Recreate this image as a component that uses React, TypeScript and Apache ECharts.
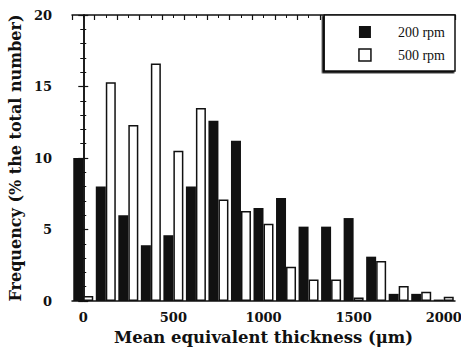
import React, { useEffect, useRef } from "react";
import * as echarts from "echarts";

const categories = ["0", "125", "250", "375", "500", "625", "750", "875", "1000", "1125", "1250", "1375", "1500", "1625", "1750", "1875", "2000"];
const rpm200 = [10, 8, 6, 3.9, 4.6, 8, 12.6, 11.2, 6.5, 7.2, 5.2, 5.2, 5.8, 3.1, 0.5, 0.5, 0.1];
const rpm500 = [0.35, 15.3, 12.3, 16.6, 10.5, 13.5, 7.1, 6.3, 5.4, 2.4, 1.5, 1.5, 0.25, 2.8, 1.05, 0.65, 0.3];
const xTickLabels = [0, 500, 1000, 1500, 2000];
const seriesNames = ["200 rpm", "500 rpm"];

const FONT = "DejaVu Serif";

export default function App() {
  const ref = useRef<HTMLDivElement>(null);
  useEffect(() => {
    if (!ref.current) return;
    const chart = echarts.init(ref.current, undefined, { renderer: "svg" });
    chart.setOption({
      animation: false,
      backgroundColor: "#fff",
      grid: { left: 72, right: 6, top: 15, bottom: 50, outerBoundsMode: "none" },
      legend: {
        orient: "vertical",
        right: 6,
        top: 15,
        padding: [10, 10, 9, 34],
        itemWidth: 12,
        itemHeight: 12,
        itemGap: 9,
        backgroundColor: "#fff",
        borderColor: "#111",
        borderWidth: 1.5,
        shadowColor: "#111",
        shadowBlur: 0,
        shadowOffsetX: -1.5,
        shadowOffsetY: 1.5,
        textStyle: { fontFamily: "Liberation Serif", fontSize: 14, color: "#111", padding: [0, 0, 0, 22] },
        data: [
          { name: seriesNames[0], icon: "rect", itemStyle: { color: "#111", borderWidth: 0 } },
          { name: seriesNames[1], icon: "rect", itemStyle: { color: "#fff", borderColor: "#111", borderWidth: 1.5 } },
        ],
      },
      xAxis: [
        { type: "category", data: categories, show: false },
        {
          type: "value",
          position: "bottom",
          min: -62.5,
          max: 2062.5,
          axisLine: { show: true, lineStyle: { color: "#111", width: 1.5 } },
          axisTick: { show: false },
          splitLine: { show: false },
          axisLabel: {
            customValues: xTickLabels,
            formatter: (v: number) => String(v),
            margin: 10,
            fontFamily: FONT,
            fontWeight: "bold",
            fontSize: 13,
            color: "#111",
          },
          name: "Mean equivalent thickness (\u03bcm)",
          nameLocation: "middle",
          nameGap: 26,
          nameTextStyle: { fontFamily: FONT, fontWeight: "bold", fontSize: 16.5, color: "#111" },
        },
        {
          type: "value",
          position: "top",
          min: -62.5,
          max: 2062.5,
          interval: 125,
          axisLine: { show: true, lineStyle: { color: "#111", width: 1.5 } },
          axisTick: { show: true, inside: true, length: 5, lineStyle: { color: "#111", width: 1.2 } },
          minorTick: { show: true, splitNumber: 2, length: 3, lineStyle: { color: "#111", width: 1 } },
          axisLabel: { show: false },
          splitLine: { show: false },
        },
      ],
      yAxis: [
        {
          type: "value",
          min: 0,
          max: 20,
          interval: 5,
          position: "left",
          axisLine: { show: true, lineStyle: { color: "#111", width: 1.5 } },
          axisTick: { show: true, inside: true, length: 5, lineStyle: { color: "#111", width: 1.2 } },
          minorTick: { show: true, splitNumber: 5, length: 3, lineStyle: { color: "#111", width: 1 } },
          splitLine: { show: false },
          axisLabel: { margin: 20, fontFamily: FONT, fontWeight: "bold", fontSize: 13, color: "#111" },
          name: "Frequency (% the total number)",
          nameLocation: "middle",
          nameRotate: 90,
          nameGap: 40,
          nameTextStyle: { fontFamily: FONT, fontWeight: "bold", fontSize: 16, color: "#111" },
        },
        {
          type: "value",
          min: 0,
          max: 20,
          interval: 5,
          position: "right",
          axisLine: { show: true, lineStyle: { color: "#111", width: 1.5 } },
          axisTick: { show: true, inside: true, length: 5, lineStyle: { color: "#111", width: 1.2 } },
          minorTick: { show: true, splitNumber: 5, length: 3, lineStyle: { color: "#111", width: 1 } },
          splitLine: { show: false },
          axisLabel: { show: false },
        },
      ],
      series: [
        { name: seriesNames[0], type: "bar", xAxisIndex: 0, yAxisIndex: 0, data: rpm200, barWidth: 10, barGap: "0%", itemStyle: { color: "#111" } },
        { name: seriesNames[1], type: "bar", xAxisIndex: 0, yAxisIndex: 0, data: rpm500, barWidth: 10, barGap: "0%", itemStyle: { color: "#fff", borderColor: "#111", borderWidth: 1.5 } },
      ],
    });
    return () => chart.dispose();
  }, []);
  return <div ref={ref} style={{ width: 461, height: 351, position: "absolute", left: 0, top: 0 }} />;
}
